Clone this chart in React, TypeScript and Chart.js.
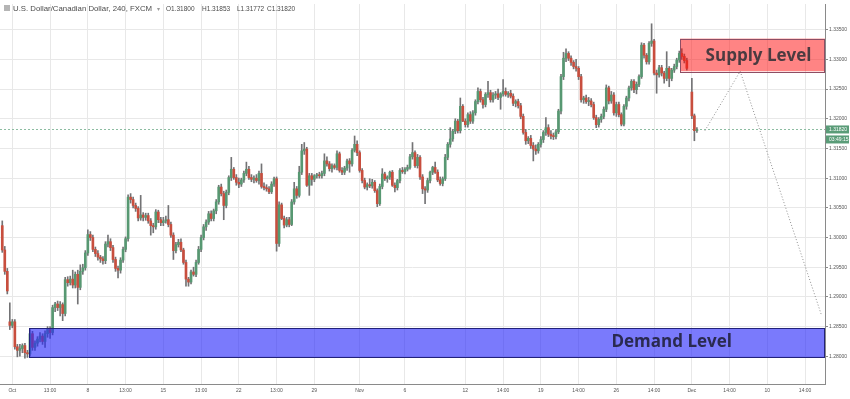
import React, { useEffect, useRef } from "react";
import { Chart, registerables } from "chart.js";
Chart.register(...registerables);

// 4-hour bars, index 0 = first bar labelled "Oct"; first bar shown is index -4
const firstBar = -4;

const opens = [
  1.3020,1.2979,1.2943,1.2858,1.2852,1.2858,1.2816,1.2810,1.2813,1.2818,
  1.2806,1.2804,1.2838,1.2815,1.2822,1.2829,1.2834,1.2825,1.2838,1.2845,
  1.2840,1.2882,1.2888,1.2882,1.2887,1.2872,1.2929,1.2924,1.2930,1.2920,
  1.2938,1.2916,1.2943,1.2949,1.2974,1.3005,1.3000,1.2980,1.2973,1.2967,
  1.2964,1.2961,1.2989,1.2993,1.2983,1.2963,1.2948,1.2945,1.2962,1.2980,
  1.2998,1.3068,1.3064,1.3054,1.3049,1.3033,1.3038,1.3034,1.3037,1.3028,
  1.3020,1.3018,1.3043,1.3030,1.3025,1.3028,1.3030,1.3022,1.3004,1.2978,
  1.2988,1.2992,1.2979,1.2958,1.2930,1.2925,1.2942,1.2938,1.2958,1.2980,
  1.3000,1.3018,1.3026,1.3040,1.3032,1.3045,1.3060,1.3085,1.3074,1.3054,
  1.3076,1.3101,1.3115,1.3101,1.3093,1.3090,1.3097,1.3108,1.3115,1.3101,
  1.3098,1.3100,1.3096,1.3108,1.3086,1.3084,1.3082,1.3077,1.3090,1.3099,
  1.2990,1.3055,1.3032,1.3021,1.3030,1.3022,1.3060,1.3082,1.3071,1.3110,
  1.3146,1.3149,1.3088,1.3104,1.3098,1.3104,1.3105,1.3104,1.3108,1.3129,
  1.3124,1.3116,1.3121,1.3118,1.3141,1.3113,1.3110,1.3117,1.3129,1.3124,
  1.3147,1.3157,1.3143,1.3113,1.3096,1.3085,1.3089,1.3087,1.3093,1.3079,
  1.3057,1.3086,1.3107,1.3099,1.3102,1.3110,1.3088,1.3084,1.3096,1.3113,
  1.3111,1.3115,1.3118,1.3136,1.3143,1.3121,1.3135,1.3102,1.3082,1.3080,
  1.3096,1.3110,1.3118,1.3110,1.3097,1.3091,1.3099,1.3135,1.3157,1.3166,
  1.3179,1.3196,1.3180,1.3221,1.3196,1.3190,1.3207,1.3196,1.3210,1.3229,
  1.3246,1.3232,1.3224,1.3241,1.3244,1.3232,1.3240,1.3242,1.3236,1.3242,
  1.3246,1.3241,1.3243,1.3238,1.3226,1.3229,1.3222,1.3204,1.3177,1.3163,
  1.3167,1.3155,1.3149,1.3146,1.3157,1.3165,1.3177,1.3185,1.3174,1.3171,
  1.3170,1.3178,1.3213,1.3271,1.3302,1.3310,1.3302,1.3295,1.3288,1.3285,
  1.3271,1.3232,1.3235,1.3229,1.3230,1.3224,1.3202,1.3190,1.3199,1.3204,
  1.3216,1.3252,1.3230,1.3240,1.3210,1.3224,1.3207,1.3191,1.3221,1.3235,
  1.3252,1.3263,1.3249,1.3258,1.3271,1.3324,1.3307,1.3296,1.3327,1.3331,
  1.3277,1.3274,1.3286,1.3277,1.3268,1.3285,1.3268,1.3282,1.3288,1.3299,
  1.3310,1.3305,1.3298,null,1.3245,1.3205,1.31800,
];

const highs = [
  1.3028,1.2985,1.2948,1.2890,1.2862,1.2862,1.2820,1.2820,1.2821,1.2822,
  1.2810,1.2845,1.2842,1.2826,1.2833,1.2840,1.2838,1.2843,1.2850,1.2850,
  1.2886,1.2891,1.2893,1.2892,1.2890,1.2933,1.2934,1.2935,1.2945,1.2942,
  1.2945,1.2954,1.2955,1.2978,1.3013,1.3010,1.3004,1.2984,1.2978,1.2970,
  1.2968,1.2993,1.3004,1.2998,1.2987,1.2967,1.2952,1.2966,1.2984,1.3001,
  1.3072,1.3074,1.3068,1.3058,1.3052,1.3071,1.3042,1.3041,1.3041,1.3032,
  1.3024,1.3047,1.3046,1.3034,1.3034,1.3036,1.3054,1.3026,1.3008,1.2992,
  1.2997,1.2998,1.2982,1.2962,1.2933,1.2945,1.2950,1.2962,1.2985,1.3004,
  1.3022,1.3030,1.3044,1.3045,1.3048,1.3064,1.3088,1.3090,1.3078,1.3080,
  1.3104,1.3135,1.3118,1.3106,1.3100,1.3100,1.3112,1.3127,1.3120,1.3106,
  1.3104,1.3106,1.3112,1.3124,1.3092,1.3089,1.3086,1.3094,1.3102,1.3102,
  1.3060,1.3058,1.3036,1.3034,1.3034,1.3064,1.3093,1.3086,1.3120,1.3157,
  1.3160,1.3152,1.3108,1.3108,1.3106,1.3108,1.3110,1.3112,1.3141,1.3136,
  1.3128,1.3124,1.3124,1.3146,1.3144,1.3118,1.3120,1.3132,1.3133,1.3150,
  1.3171,1.3163,1.3146,1.3116,1.3100,1.3092,1.3099,1.3098,1.3096,1.3082,
  1.3090,1.3116,1.3110,1.3104,1.3112,1.3113,1.3092,1.3098,1.3116,1.3118,
  1.3118,1.3122,1.3140,1.3160,1.3146,1.3140,1.3138,1.3106,1.3086,1.3100,
  1.3112,1.3120,1.3127,1.3114,1.3102,1.3102,1.3140,1.3160,1.3185,1.3182,
  1.3200,1.3199,1.3235,1.3224,1.3200,1.3210,1.3212,1.3214,1.3232,1.3252,
  1.3250,1.3236,1.3244,1.3263,1.3248,1.3244,1.3246,1.3250,1.3244,1.3266,
  1.3252,1.3246,1.3248,1.3242,1.3232,1.3233,1.3226,1.3208,1.3182,1.3170,
  1.3172,1.3160,1.3156,1.3160,1.3170,1.3180,1.3202,1.3190,1.3180,1.3176,
  1.3182,1.3216,1.3275,1.3312,1.3318,1.3313,1.3306,1.3298,1.3300,1.3288,
  1.3275,1.3238,1.3240,1.3236,1.3234,1.3228,1.3206,1.3202,1.3208,1.3220,
  1.3257,1.3255,1.3246,1.3244,1.3228,1.3228,1.3210,1.3224,1.3238,1.3255,
  1.3266,1.3266,1.3262,1.3274,1.3328,1.3327,1.3310,1.3330,1.3360,1.3334,
  1.3282,1.3290,1.3290,1.3280,1.3313,1.3288,1.3285,1.3292,1.3302,1.3314,
  1.3318,1.3309,1.3302,null,1.3268,1.3208,1.31853,
];

const lows = [
  1.2975,1.2938,1.2905,1.2845,1.2848,1.2812,1.2799,1.2800,1.2806,1.2797,
  1.2798,1.2800,1.2810,1.2810,1.2817,1.2824,1.2820,1.2815,1.2832,1.2830,
  1.2836,1.2875,1.2877,1.2868,1.2860,1.2868,1.2918,1.2920,1.2915,1.2915,
  1.2888,1.2912,1.2938,1.2945,1.2970,1.2995,1.2976,1.2968,1.2962,1.2958,
  1.2955,1.2956,1.2984,1.2978,1.2958,1.2943,1.2932,1.2940,1.2958,1.2976,
  1.2994,1.3058,1.3050,1.3044,1.3028,1.3029,1.3028,1.3029,1.3024,1.3004,
  1.3008,1.3014,1.3025,1.3020,1.3020,1.3024,1.3018,1.3000,1.2963,1.2974,
  1.2984,1.2976,1.2955,1.2918,1.2918,1.2922,1.2935,1.2934,1.2955,1.2976,
  1.2996,1.3012,1.3022,1.3028,1.3028,1.3040,1.3056,1.3070,1.3030,1.3050,
  1.3072,1.3096,1.3098,1.3088,1.3084,1.3086,1.3093,1.3104,1.3098,1.3094,
  1.3092,1.3093,1.3090,1.3083,1.3080,1.3078,1.3074,1.3074,1.3086,1.2977,
  1.2985,1.3030,1.3016,1.3018,1.3018,1.3020,1.3056,1.3066,1.3068,1.3106,
  1.3140,1.3086,1.3071,1.3088,1.3094,1.3100,1.3100,1.3100,1.3104,1.3120,
  1.3112,1.3110,1.3115,1.3114,1.3110,1.3106,1.3106,1.3113,1.3110,1.3120,
  1.3144,1.3138,1.3110,1.3092,1.3082,1.3080,1.3084,1.3083,1.3076,1.3052,
  1.3054,1.3082,1.3096,1.3093,1.3098,1.3086,1.3077,1.3080,1.3092,1.3108,
  1.3107,1.3112,1.3115,1.3132,1.3118,1.3117,1.3098,1.3074,1.3057,1.3076,
  1.3092,1.3106,1.3108,1.3094,1.3088,1.3087,1.3096,1.3131,1.3152,1.3162,
  1.3175,1.3176,1.3176,1.3195,1.3186,1.3186,1.3192,1.3192,1.3206,1.3225,
  1.3228,1.3218,1.3220,1.3236,1.3228,1.3228,1.3234,1.3232,1.3216,1.3238,
  1.3238,1.3236,1.3235,1.3222,1.3220,1.3218,1.3200,1.3174,1.3157,1.3158,
  1.3150,1.3129,1.3140,1.3142,1.3152,1.3160,1.3172,1.3170,1.3166,1.3165,
  1.3166,1.3175,1.3208,1.3266,1.3296,1.3298,1.3290,1.3284,1.3280,1.3266,
  1.3228,1.3226,1.3226,1.3222,1.3220,1.3199,1.3185,1.3186,1.3194,1.3200,
  1.3212,1.3225,1.3226,1.3206,1.3204,1.3203,1.3188,1.3188,1.3216,1.3230,
  1.3248,1.3244,1.3242,1.3254,1.3268,1.3302,1.3292,1.3292,1.3322,1.3274,
  1.3243,1.3270,1.3272,1.3260,1.3264,1.3254,1.3264,1.3278,1.3284,1.3295,
  1.3300,1.3294,1.3282,null,1.3200,1.3163,1.31772,
];

const closes = [
  1.2979,1.2943,1.2910,1.2852,1.2858,1.2816,1.2810,1.2813,1.2818,1.2806,
  1.2804,1.2838,1.2815,1.2822,1.2829,1.2834,1.2825,1.2838,1.2845,1.2840,
  1.2882,1.2888,1.2882,1.2887,1.2872,1.2929,1.2924,1.2930,1.2920,1.2938,
  1.2916,1.2943,1.2949,1.2974,1.3005,1.3000,1.2980,1.2973,1.2967,1.2964,
  1.2961,1.2989,1.2993,1.2983,1.2963,1.2948,1.2945,1.2962,1.2980,1.2998,
  1.3068,1.3064,1.3054,1.3049,1.3033,1.3038,1.3034,1.3037,1.3028,1.3020,
  1.3018,1.3043,1.3030,1.3025,1.3028,1.3030,1.3022,1.3004,1.2978,1.2988,
  1.2992,1.2979,1.2958,1.2930,1.2925,1.2942,1.2938,1.2958,1.2980,1.3000,
  1.3018,1.3026,1.3040,1.3032,1.3045,1.3060,1.3085,1.3074,1.3054,1.3076,
  1.3101,1.3115,1.3101,1.3093,1.3090,1.3097,1.3108,1.3115,1.3101,1.3098,
  1.3100,1.3096,1.3108,1.3086,1.3084,1.3082,1.3077,1.3090,1.3099,1.2990,
  1.3055,1.3032,1.3021,1.3030,1.3022,1.3060,1.3082,1.3071,1.3110,1.3146,
  1.3149,1.3088,1.3104,1.3098,1.3104,1.3105,1.3104,1.3108,1.3129,1.3124,
  1.3116,1.3121,1.3118,1.3141,1.3113,1.3110,1.3117,1.3129,1.3124,1.3147,
  1.3157,1.3143,1.3113,1.3096,1.3085,1.3089,1.3087,1.3093,1.3079,1.3057,
  1.3086,1.3107,1.3099,1.3102,1.3110,1.3088,1.3084,1.3096,1.3113,1.3111,
  1.3115,1.3118,1.3136,1.3143,1.3121,1.3135,1.3102,1.3082,1.3080,1.3096,
  1.3110,1.3118,1.3110,1.3097,1.3091,1.3099,1.3135,1.3157,1.3166,1.3179,
  1.3196,1.3180,1.3221,1.3196,1.3190,1.3207,1.3196,1.3210,1.3229,1.3246,
  1.3232,1.3224,1.3241,1.3244,1.3232,1.3240,1.3242,1.3236,1.3242,1.3246,
  1.3241,1.3243,1.3238,1.3226,1.3229,1.3222,1.3204,1.3177,1.3163,1.3167,
  1.3155,1.3149,1.3146,1.3157,1.3165,1.3177,1.3185,1.3174,1.3171,1.3170,
  1.3178,1.3213,1.3271,1.3302,1.3310,1.3302,1.3295,1.3288,1.3285,1.3271,
  1.3232,1.3235,1.3229,1.3230,1.3224,1.3202,1.3190,1.3199,1.3204,1.3216,
  1.3252,1.3230,1.3240,1.3210,1.3224,1.3207,1.3191,1.3221,1.3235,1.3252,
  1.3263,1.3249,1.3258,1.3271,1.3324,1.3307,1.3296,1.3327,1.3331,1.3277,
  1.3274,1.3286,1.3277,1.3268,1.3285,1.3268,1.3282,1.3288,1.3299,1.3310,
  1.3305,1.3298,1.3285,null,1.3205,1.3180,1.31820,
];

const yTickValues = [1.28, 1.285, 1.29, 1.295, 1.3, 1.305, 1.31, 1.315, 1.32, 1.325, 1.33, 1.335];
const xTickBars = [0, 15, 30, 45, 60, 75, 90, 105, 120, 138, 156, 180, 195, 210, 225, 240, 255, 270, 285, 300, 315];
const xTickLabels = ["Oct", "13:00", "8", "13:00", "15", "13:00", "22", "13:00", "29", "Nov", "6", "12", "14:00", "19", "14:00", "26", "14:00", "Dec", "14:00", "10", "14:00"];

const supplyStartBar = 265.3;
const supplyTop = 1.3335;
const supplyBottom = 1.3280;
const supplyLabel = "Supply Level";
const supplyLabelBar = 296.5;
const supplyLabelPrice = 1.3305;

const demandStartBar = 6.8;
const demandTop = 1.2847;
const demandBottom = 1.2798;
const demandLabel = "Demand Level";
const demandLabelBar = 262;
const demandLabelPrice = 1.2823;

const projectionBars = [275.2, 289.2, 321.6];
const projectionPrices = [1.318, 1.328, 1.2868];

const title = "U.S. Dollar/Canadian Dollar, 240, FXCM";
const ohlcTexts = ["O1.31800", "H1.31853", "L1.31772", "C1.31820"];
const lastPrice = 1.3182;
const countdown = "03:49:15";

const UP = "#579872";
const DOWN = "#c84e3e";
const WICK = "#737375";
const PRICE_GREEN = "#5a9c78";

export default function App() {
  const ref = useRef<HTMLCanvasElement>(null);

  useEffect(() => {
    const wicks: any[] = [];
    const bodies: any[] = [];
    const colors: string[] = [];
    opens.forEach((o, k) => {
      if (o == null) return;
      const x = firstBar + k;
      wicks.push({ x, y: [lows[k], highs[k]] });
      bodies.push({ x, y: [o, closes[k]] });
      colors.push((closes[k] as number) >= o ? UP : DOWN);
    });
    const projection = projectionBars.map((b, k) => ({ x: b, y: projectionPrices[k] }));

    const overlay = {
      id: "overlay",
      beforeDatasetsDraw(chart: any) {
        const { ctx, chartArea, scales } = chart;
        const py = Math.round(scales.y.getPixelForValue(lastPrice)) + 0.5;
        ctx.save();
        ctx.strokeStyle = "#8dbda2";
        ctx.lineWidth = 1;
        ctx.setLineDash([2, 2]);
        ctx.beginPath();
        ctx.moveTo(chartArea.left, py);
        ctx.lineTo(chartArea.right, py);
        ctx.stroke();
        ctx.restore();
      },
      afterDatasetsDraw(chart: any) {
        const { ctx, chartArea, scales } = chart;
        const { x, y } = scales;
        ctx.save();
        // supply zone
        let x0 = x.getPixelForValue(supplyStartBar);
        let y0 = y.getPixelForValue(supplyTop);
        let y1 = y.getPixelForValue(supplyBottom);
        ctx.fillStyle = "rgba(255, 10, 10, 0.5)";
        ctx.fillRect(x0, y0, chartArea.right - x0, y1 - y0);
        ctx.strokeStyle = "#8e4d63";
        ctx.lineWidth = 1;
        ctx.strokeRect(Math.round(x0) + 0.5, Math.round(y0) + 0.5, chartArea.right - Math.round(x0) - 1, Math.round(y1 - y0));
        // demand zone
        x0 = x.getPixelForValue(demandStartBar);
        y0 = y.getPixelForValue(demandTop);
        y1 = y.getPixelForValue(demandBottom);
        ctx.fillStyle = "rgba(40, 40, 250, 0.62)";
        ctx.fillRect(x0, y0, chartArea.right - x0, y1 - y0);
        ctx.strokeStyle = "#22227a";
        ctx.strokeRect(Math.round(x0) + 0.5, Math.round(y0) + 0.5, chartArea.right - Math.round(x0) - 1, Math.round(y1 - y0));
        // labels
        ctx.textAlign = "center";
        ctx.textBaseline = "middle";
        ctx.font = 'bold 17px "Open Sans"';
        ctx.fillStyle = "#4b3b40";
        ctx.fillText(supplyLabel, x.getPixelForValue(supplyLabelBar), y.getPixelForValue(supplyLabelPrice));
        ctx.fillStyle = "#2a2a50";
        ctx.fillText(demandLabel, x.getPixelForValue(demandLabelBar), y.getPixelForValue(demandLabelPrice));
        ctx.restore();
      },
      afterDraw(chart: any) {
        const { ctx, chartArea, scales } = chart;
        ctx.save();
        // header
        ctx.fillStyle = "#b5b5b5";
        ctx.fillRect(4, 5, 6, 6);
        ctx.font = '7.8px "Liberation Sans"';
        ctx.textBaseline = "alphabetic";
        ctx.textAlign = "left";
        ctx.fillStyle = "#4a4a4a";
        ctx.fillText(title, 13, 11);
        ctx.fillStyle = "#9a9a9a";
        ctx.font = '6px "Liberation Sans"';
        ctx.fillText("\u25BE", 157, 11);
        ctx.font = '6.5px "Liberation Sans"';
        ctx.fillStyle = "#4a4a4a";
        const ohlcX = [166, 202, 237, 267];
        ohlcTexts.forEach((t, k) => ctx.fillText(t, ohlcX[k], 11));
        // price label on the axis
        const py = scales.y.getPixelForValue(lastPrice);
        const lx = chartArea.right + 1;
        ctx.fillStyle = PRICE_GREEN;
        ctx.fillRect(lx, py - 4, 23, 8);
        ctx.fillRect(lx, py + 6, 23, 8);
        ctx.fillStyle = "#ffffff";
        ctx.font = '5px "Liberation Sans"';
        ctx.textBaseline = "middle";
        ctx.fillText(lastPrice.toFixed(5), lx + 3, py);
        ctx.fillText(countdown, lx + 3, py + 10);
        ctx.restore();
      },
    };

    const chart = new Chart(ref.current as HTMLCanvasElement, {
      type: "bar",
      data: {
        datasets: [
          {
            type: "line",
            data: projection,
            borderColor: "#8e8e8e",
            borderWidth: 1,
            borderDash: [1, 2],
            pointRadius: 0,
            fill: false,
            order: 0,
          } as any,
          {
            data: bodies,
            backgroundColor: colors,
            barThickness: 2,
            minBarLength: 1,
            grouped: false,
            order: 1,
          } as any,
          {
            data: wicks,
            backgroundColor: WICK,
            barThickness: 1,
            grouped: false,
            order: 2,
          } as any,
        ],
      },
      options: {
        animation: false,
        responsive: true,
        maintainAspectRatio: false,
        events: [],
        layout: { padding: 0 },
        plugins: { legend: { display: false }, tooltip: { enabled: false } },
        scales: {
          x: {
            type: "linear",
            min: -4.9,
            max: 322.9,
            offset: false,
            grid: { color: "#e8e8e8", offset: false, drawTicks: false },
            border: { color: "#8a8a8a" },
            afterBuildTicks: (s: any) => {
              s.ticks = xTickBars.map((v) => ({ value: v }));
            },
            afterFit: (s: any) => {
              s.height = 15;
            },
            ticks: {
              autoSkip: false,
              maxRotation: 0,
              padding: 4,
              color: "#555555",
              font: { size: 5, family: '"Liberation Sans"' },
              callback: (v: any) => {
                const k = xTickBars.indexOf(Number(v));
                return k >= 0 ? xTickLabels[k] : "";
              },
            },
          },
          y: {
            type: "linear",
            position: "right",
            min: 1.27533,
            max: 1.33933,
            grid: { color: "#e8e8e8", tickLength: 3, tickColor: "#8a8a8a" },
            border: { color: "#8a8a8a" },
            afterBuildTicks: (s: any) => {
              s.ticks = yTickValues.map((v) => ({ value: v }));
            },
            afterFit: (s: any) => {
              s.width = 25;
            },
            ticks: {
              padding: 1,
              color: "#555555",
              font: { size: 5, family: '"Liberation Sans"' },
              callback: (v: any) => Number(v).toFixed(5),
            },
          },
        },
      } as any,
      plugins: [overlay],
    });
    return () => chart.destroy();
  }, []);

  return (
    <div style={{ position: "absolute", left: 0, top: 0, width: 850, height: 399, background: "#ffffff" }}>
      <canvas ref={ref} />
    </div>
  );
}
